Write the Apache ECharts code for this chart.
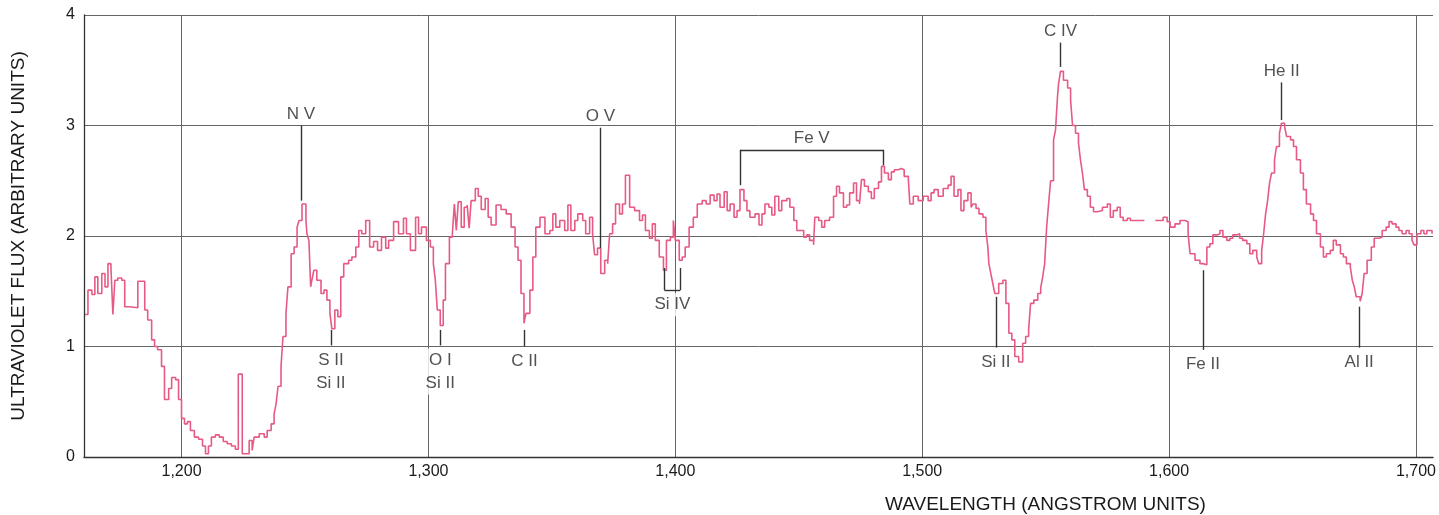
<!DOCTYPE html>
<html>
<head>
<meta charset="utf-8">
<script src="https://cdn.jsdelivr.net/npm/echarts@6/dist/echarts.min.js"></script>
<style>
  html, body { margin: 0; padding: 0; background: #fff; overflow: hidden; }
  #main { width: 1439px; height: 515px; }
</style>
</head>
<body>
<div id="main"></div>
<script>
// wavelength (angstrom) of each step of the spectrum
var wavelength = [
  1160.9, 1162.1, 1163.7, 1164.9, 1166.1, 1167.7, 1169.0, 1170.2, 1171.4, 1172.2,
  1173.0, 1174.2, 1175.8, 1177.0, 1179.0, 1182.3, 1183.9, 1185.1, 1186.3, 1187.9,
  1189.1, 1190.3, 1191.9, 1193.1, 1194.8, 1196.0, 1197.6, 1198.8, 1200.0, 1201.2,
  1202.4, 1203.6, 1205.2, 1206.9, 1208.5, 1209.7, 1210.9, 1212.1, 1213.7, 1215.3,
  1216.9, 1218.5, 1220.2, 1221.8, 1223.0, 1224.6, 1225.4, 1227.4, 1228.6, 1229.4,
  1231.5, 1233.5, 1234.7, 1236.3, 1237.5, 1238.3, 1239.1, 1240.3, 1241.1, 1242.3,
  1243.1, 1244.4, 1245.6, 1246.8, 1247.6, 1248.8, 1250.4, 1250.8, 1251.6, 1252.3,
  1252.8, 1253.6, 1254.8, 1256.5, 1257.7, 1258.9, 1260.1, 1260.9, 1262.1, 1263.3,
  1264.5, 1265.7, 1267.7, 1269.0, 1270.6, 1271.8, 1273.0, 1274.6, 1276.2, 1277.8,
  1279.4, 1281.0, 1282.7, 1283.9, 1285.9, 1287.9, 1289.9, 1291.1, 1292.7, 1294.8,
  1296.0, 1297.2, 1299.2, 1300.8, 1302.0, 1302.8, 1303.6, 1304.8, 1306.0, 1306.9,
  1308.5, 1309.7, 1310.5, 1311.3, 1312.1, 1313.3, 1314.5, 1315.7, 1316.5, 1317.3,
  1319.0, 1320.2, 1321.4, 1323.0, 1324.2, 1325.4, 1327.4, 1329.4, 1331.5, 1333.5,
  1335.1, 1336.3, 1337.5, 1338.7, 1339.5, 1341.1, 1342.3, 1343.5, 1345.2, 1347.2,
  1349.2, 1350.4, 1351.6, 1353.2, 1355.2, 1356.5, 1357.7, 1359.3, 1360.5, 1362.5,
  1363.7, 1365.3, 1366.5, 1367.3, 1368.5, 1369.8, 1371.4, 1372.6, 1373.4, 1374.6,
  1375.8, 1377.4, 1378.6, 1379.8, 1381.5, 1383.5, 1385.5, 1386.7, 1387.9, 1389.5,
  1390.7, 1391.9, 1393.5, 1395.2, 1396.4, 1398.0, 1399.2, 1400.0, 1401.6, 1402.8,
  1404.0, 1405.6, 1407.3, 1408.9, 1410.9, 1412.5, 1414.1, 1415.7, 1416.9, 1418.1,
  1419.8, 1421.0, 1422.2, 1423.8, 1425.0, 1426.2, 1427.8, 1429.0, 1430.2, 1432.3,
  1433.9, 1435.1, 1436.3, 1437.9, 1439.1, 1440.3, 1441.9, 1443.1, 1445.2, 1446.4,
  1448.0, 1449.2, 1450.4, 1452.0, 1453.2, 1454.4, 1456.0, 1456.5, 1458.1, 1459.3,
  1460.5, 1462.5, 1464.1, 1465.3, 1466.5, 1468.1, 1469.4, 1470.6, 1472.2, 1473.4,
  1474.6, 1475.4, 1476.6, 1478.2, 1479.4, 1480.6, 1482.3, 1483.5, 1484.7, 1486.3,
  1487.5, 1488.7, 1490.3, 1491.5, 1492.7, 1494.4, 1495.0, 1496.4, 1498.4, 1500.4,
  1502.4, 1503.6, 1504.8, 1506.5, 1508.5, 1510.5, 1511.7, 1512.9, 1514.5, 1515.7,
  1516.9, 1518.5, 1519.8, 1520.6, 1521.8, 1523.0, 1524.6, 1525.8, 1526.6, 1527.0,
  1527.8, 1528.6, 1529.4, 1531.0, 1532.7, 1533.9, 1535.1, 1536.3, 1537.5, 1539.1,
  1540.7, 1541.9, 1543.1, 1543.9, 1545.2, 1546.8, 1548.0, 1548.8, 1549.6, 1550.4,
  1551.2, 1552.0, 1553.2, 1554.0, 1554.8, 1555.2, 1556.0, 1557.2, 1558.9, 1560.1,
  1560.9, 1562.1, 1563.3, 1564.1, 1564.9, 1565.7, 1566.9, 1568.1, 1569.4, 1571.0,
  1573.0, 1575.0, 1576.2, 1577.4, 1579.0, 1580.2, 1581.4, 1583.1, 1584.3, 1585.1,
  1590.0,
  1594.4, 1596.4, 1597.6, 1599.2, 1600.4, 1602.4, 1604.4, 1606.5, 1607.7, 1608.5,
  1610.5, 1612.5, 1613.7, 1615.3, 1616.5, 1617.7, 1619.4, 1620.6, 1621.8, 1623.4,
  1624.6, 1625.8, 1627.4, 1628.6, 1629.8, 1631.5, 1632.7, 1633.9, 1635.5, 1636.3,
  1637.5, 1638.3, 1639.1, 1639.9, 1640.7, 1641.5, 1642.7, 1643.5, 1644.7, 1645.5,
  1646.8, 1647.6, 1649.2, 1650.4, 1651.6, 1653.2, 1654.4, 1655.6, 1657.3, 1658.5,
  1659.7, 1661.3, 1662.5, 1663.7, 1665.3, 1666.5, 1667.7, 1669.4, 1670.6, 1671.8,
  1673.4, 1674.2, 1675.0, 1675.8, 1677.4, 1678.2, 1679.0, 1680.2, 1681.9, 1683.1,
  1685.1, 1686.3, 1687.9, 1689.1, 1690.3, 1691.9, 1693.1, 1694.4, 1696.0, 1697.2,
  1698.4, 1699.2, 1700.4, 1702.0, 1703.2, 1704.4, 1706.5
];

// ultraviolet flux for each step (null = gap in the record)
var flux = [
  1.29, 1.51, 1.47, 1.63, 1.48, 1.66, 1.54, 1.75, 1.72, 1.29,
  1.60, 1.62, 1.60, 1.36, 1.35, 1.59, 1.59, 1.33, 1.24, 1.06,
  1.00, 0.97, 0.82, 0.52, 0.62, 0.72, 0.70, 0.52, 0.35, 0.30,
  0.32, 0.24, 0.18, 0.16, 0.10, 0.03, 0.10, 0.18, 0.20, 0.18,
  0.14, 0.12, 0.10, 0.07, 0.75, 0.03, 0.03, 0.15, 0.06, 0.18,
  0.21, 0.18, 0.24, 0.30, 0.39, 0.48, 0.64, 0.82, 1.09, 1.30,
  1.54, 1.84, 1.90, 2.08, 2.14, 2.29, 2.14, 2.02, 1.96, 1.54,
  1.60, 1.69, 1.60, 1.48, 1.51, 1.42, 1.30, 1.16, 1.33, 1.27,
  1.63, 1.75, 1.78, 1.81, 1.90, 2.05, 2.02, 2.14, 1.90, 1.95,
  1.87, 1.99, 1.89, 1.96, 2.13, 2.02, 2.16, 2.02, 1.87, 2.17,
  2.02, 2.08, 1.96, 1.90, 1.75, 1.60, 1.33, 1.19, 1.42, 1.75,
  1.99, 2.02, 2.29, 2.05, 2.31, 2.08, 2.26, 2.28, 2.07, 2.32,
  2.43, 2.36, 2.24, 2.34, 2.17, 2.10, 2.28, 2.24, 2.20, 2.08,
  1.90, 1.78, 1.48, 1.21, 1.30, 1.51, 1.81, 2.08, 2.17, 2.02,
  2.05, 2.20, 2.08, 2.14, 2.05, 2.28, 2.05, 2.14, 2.20, 2.14,
  2.02, 2.17, 2.02, 1.83, 1.89, 1.66, 1.78, 1.75, 2.02, 2.11,
  2.29, 2.20, 2.29, 2.55, 2.26, 2.23, 2.14, 2.19, 2.05, 1.98,
  2.11, 1.96, 1.81, 1.69, 1.96, 1.99, 2.14, 1.96, 1.78, 1.81,
  1.90, 2.08, 2.17, 2.29, 2.32, 2.29, 2.37, 2.32, 2.38, 2.26,
  2.40, 2.23, 2.29, 2.17, 2.23, 2.42, 2.32, 2.23, 2.17, 2.20,
  2.10, 2.20, 2.29, 2.26, 2.19, 2.36, 2.23, 2.32, 2.34, 2.26,
  2.14, 2.05, 2.05, 1.99, 2.01, 1.96, 1.92, 2.17, 2.14, 2.08,
  2.14, 2.17, 2.36, 2.45, 2.39, 2.26, 2.28, 2.39, 2.48, 2.32,
  2.29, 2.51, 2.45, 2.40, 2.34, 2.43, 2.49, 2.63, 2.57, 2.51,
  2.58, 2.60, 2.61, 2.60, 2.54, 2.51, 2.29, 2.36, 2.32, 2.36,
  2.32, 2.39, 2.42, 2.36, 2.43, 2.46, 2.54, 2.36, 2.42, 2.23,
  2.32, 2.39, 2.26, 2.29, 2.25, 2.20, 2.17, 2.05, 1.90, 1.75,
  1.66, 1.57, 1.48, 1.57, 1.60, 1.39, 1.12, 1.06, 0.91, 0.86,
  1.03, 1.09, 1.15, 1.39, 1.42, 1.48, 1.53, 1.63, 1.75, 2.08,
  2.29, 2.50, 2.87, 2.96, 3.26, 3.37, 3.49, 3.41, 3.34, 3.23,
  3.00, 2.93, 2.84, 2.69, 2.57, 2.42, 2.36, 2.26, 2.22, 2.23,
  2.26, 2.29, 2.17, 2.23, 2.26, 2.17, 2.14, 2.16, 2.14, 2.14,
  null,
  2.14, 2.14, 2.17, 2.13, 2.08, 2.11, 2.14, 2.13, 2.02, 1.84,
  1.78, 1.75, 1.74, 1.90, 1.93, 2.01, 2.02, 2.05, 1.99, 1.96,
  1.98, 2.01, 2.02, 1.98, 1.96, 1.93, 1.84, 1.87, 1.81, 1.75,
  1.87, 2.02, 2.20, 2.32, 2.48, 2.57, 2.69, 2.81, 2.93, 3.02,
  2.99, 2.90, 2.87, 2.81, 2.69, 2.57, 2.42, 2.29, 2.20, 2.14,
  2.02, 1.90, 1.81, 1.84, 1.87, 1.96, 1.92, 1.84, 1.81, 1.75,
  1.72, 1.60, 1.54, 1.45, 1.41, 1.48, 1.66, 1.78, 1.90, 1.98,
  1.99, 2.05, 2.08, 2.13, 2.11, 2.08, 2.05, 2.02, 2.05, 2.02,
  1.96, 1.92, 2.02, 2.05, 2.02, 2.05, 2.02
];

var xTicks = [1200, 1300, 1400, 1500, 1600, 1700];

// spectral line identifications: name, wavelength, tick top / bottom (flux units)
var upperNames = ['N V', 'O V', 'C IV', 'He II'];
var upperWave = [1248.4, 1369.7, 1556.0, 1645.6];
var upperTop = [3.00, 2.98, 3.75, 3.39];
var upperBottom = [2.32, 1.89, 3.53, 3.05];

var lowerNames = ['S II\nSi II', 'O I\nSi II', 'C II', 'Si II', 'Fe II', 'Al II'];
var lowerWave = [1260.5, 1304.8, 1338.9, 1529.8, 1613.7, 1677.0];
var lowerTop = [1.15, 1.15, 1.15, 1.45, 1.69, 1.36];
var lowerBottom = [1.01, 1.01, 1.00, 0.99, 0.97, 0.99];

// brackets: [left, right, level, left leg end, right leg end]
var siIV = [1395.6, 1402.0, 1.51, 1.71, 1.71];
var feV = [1426.2, 1484.3, 2.78, 2.46, 2.64];

var chart = echarts.init(document.getElementById('main'));

var spectrum = [];
for (var i = 0; i < wavelength.length; i++) {
    spectrum.push([wavelength[i], flux[i] == null ? '-' : flux[i]]);
}

function seg(x1, y1, x2, y2) {
    return [{coord: [x1, y1]}, {coord: [x2, y2]}];
}

var segs = [];
for (var i = 0; i < upperNames.length; i++) {
    segs.push(seg(upperWave[i], upperTop[i], upperWave[i], upperBottom[i]));
}
for (var i = 0; i < lowerNames.length; i++) {
    segs.push(seg(lowerWave[i], lowerTop[i], lowerWave[i], lowerBottom[i]));
}
[siIV, feV].forEach(function (b) {
    segs.push(seg(b[0], b[2], b[0], b[3]));
    segs.push(seg(b[0], b[2], b[1], b[2]));
    segs.push(seg(b[1], b[2], b[1], b[4]));
});

var upperLabels = [];
for (var i = 0; i < upperNames.length; i++) {
    upperLabels.push({name: upperNames[i], value: [upperWave[i], upperTop[i]]});
}
upperLabels.push({name: 'Fe V', value: [(feV[0] + feV[1]) / 2, feV[2]]});

var lowerLabels = [];
for (var i = 0; i < lowerNames.length; i++) {
    lowerLabels.push({name: lowerNames[i], value: [lowerWave[i], lowerBottom[i]]});
}
var siIVLabel = [{name: 'Si IV', value: [(siIV[0] + siIV[1]) / 2, siIV[2]]}];

var font = 'Liberation Sans, Arial, sans-serif';

var option = {
    animation: false,
    backgroundColor: '#ffffff',
    textStyle: {fontFamily: font},
    title: {
        text: 'WAVELENGTH (ANGSTROM UNITS)',
        left: 885,
        top: 495,
        padding: 0,
        textStyle: {fontFamily: font, fontSize: 19, fontWeight: 'normal', color: '#1a1a1a'}
    },
    grid: {left: 84, right: 0, top: 15, bottom: 58},
    xAxis: {
        type: 'value',
        min: 1160.5,
        max: 1706.9,
        axisLine: {show: true, onZero: false, lineStyle: {color: '#333', width: 1.3}},
        axisTick: {show: false, customValues: xTicks},
        axisLabel: {
            customValues: xTicks,
            margin: 7,
            fontSize: 16,
            color: '#1a1a1a',
            fontFamily: font,
            formatter: function (v) {
                return String(v).replace(/(\d)(\d{3})$/, '$1,$2');
            }
        },
        splitLine: {show: true, lineStyle: {color: '#666', width: 1}}
    },
    yAxis: {
        type: 'value',
        min: 0,
        max: 4,
        interval: 1,
        name: 'ULTRAVIOLET FLUX (ARBITRARY UNITS)',
        nameLocation: 'middle',
        nameGap: 56,
        nameTextStyle: {fontFamily: font, fontSize: 19, color: '#1a1a1a'},
        axisLine: {show: true, lineStyle: {color: '#333', width: 1.3}},
        axisTick: {show: false},
        axisLabel: {margin: 9, fontSize: 16, color: '#1a1a1a', fontFamily: font},
        splitLine: {show: true, lineStyle: {color: '#666', width: 1}}
    },
    series: [
        {
            name: 'spectrum',
            type: 'line',
            step: 'end',
            showSymbol: false,
            connectNulls: false,
            data: spectrum,
            lineStyle: {color: '#e65a84', width: 1.6},
            z: 3
        },
        {
            name: 'ticks',
            type: 'line',
            data: [],
            markLine: {
                silent: true,
                symbol: 'none',
                animation: false,
                label: {show: false},
                lineStyle: {color: '#333', width: 1.4, type: 'solid'},
                data: segs
            },
            z: 4
        },
        {
            name: 'upper',
            type: 'scatter',
            symbolSize: 0,
            data: upperLabels,
            label: {
                show: true,
                position: 'top',
                distance: 3,
                formatter: '{b}',
                fontSize: 17,
                color: '#262626',
                fontFamily: font
            },
            z: 5
        },
        {
            name: 'lower',
            type: 'scatter',
            symbolSize: 0,
            data: lowerLabels.concat(siIVLabel),
            label: {
                show: true,
                position: 'bottom',
                distance: 3,
                lineHeight: 23,
                formatter: '{b}',
                fontSize: 17,
                color: '#262626',
                fontFamily: font,
                backgroundColor: '#fff'
            },
            z: 5
        }
    ]
};

chart.setOption(option);
</script>
</body>
</html>
